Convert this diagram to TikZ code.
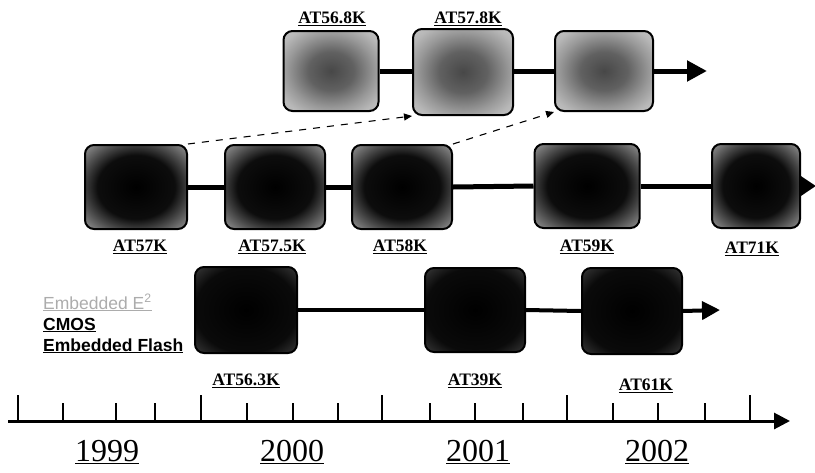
\documentclass[tikz,border=0pt]{standalone}
\usepackage{fontspec}
\setmainfont{Liberation Serif}
\newfontfamily\legendfont{Liberation Sans}
\usetikzlibrary{arrows.meta}
\pgfdeclareradialshading{topshade}{\pgfpointorigin}{color(0bp)=(black!72); color(12bp)=(black!62); color(23bp)=(black!40); color(30bp)=(black!28); color(35bp)=(black!24); color(50bp)=(black!24)}
\pgfdeclareradialshading{midshade}{\pgfpointorigin}{color(0bp)=(black); color(19bp)=(black!95); color(26bp)=(black!72); color(32bp)=(black!52); color(35bp)=(black!45); color(50bp)=(black!45)}
\pgfdeclareradialshading{lowshade}{\pgfpointorigin}{color(0bp)=(black); color(25bp)=(black!96); color(32bp)=(black!84); color(35bp)=(black!76); color(50bp)=(black!76)}
\tikzset{
  chipbase/.style={draw=black,line width=2pt,rounded corners=9pt,inner sep=0pt},
  topchip/.style={chipbase,shading=topshade,minimum width=95pt,minimum height=80pt},
  midchip/.style={chipbase,shading=midshade,minimum width=102pt,minimum height=84pt},
  lowchip/.style={chipbase,shading=lowshade,minimum width=102pt,minimum height=86pt},
  lbl/.style={font=\fontsize{17.5}{18}\selectfont\bfseries,inner sep=0pt},
  yearlbl/.style={font=\fontsize{32}{32}\selectfont,inner sep=0pt},
  legendtxt/.style={font=\legendfont\fontsize{17.5}{18}\selectfont,anchor=base west,inner sep=0pt},
  legendbold/.style={legendtxt,font=\legendfont\bfseries\fontsize{17.5}{18}\selectfont},
  link/.style={line width=5pt},
  lowlink/.style={line width=4pt},
  bigtip/.style={-{Triangle[length=20pt,width=20pt]}},
  dashlink/.style={line width=1.1pt,dash pattern=on 7pt off 7pt,-{Triangle[length=8pt,width=7pt]}},
  majortick/.style={line width=2pt},
  minortick/.style={line width=1.6pt}
}
\begin{document}
\begin{tikzpicture}[x=1pt,y=-1pt]
\useasboundingbox (0,0) rectangle (815,472);
% top row
\node[topchip] (t1) at (331,71) {};
\node[topchip,minimum width=100pt,minimum height=86pt] (t2) at (463,72) {};
\node[topchip,minimum width=98pt] (t3) at (604,71) {};
\coordinate (tend) at (707,71);
\node[lbl] (lt1) at (332,19) {\underline{AT56.8K}};
\node[lbl] (lt2) at (468,19) {\underline{AT57.8K}};
\draw[link] (t1.east) -- (t2.west |- t1.east);
\draw[link] (t2.east |- t3.west) -- (t3.west);
\draw[link,bigtip] (t3.east) -- (tend);
% middle row
\node[midchip] (m1) at (136,187) {};
\node[midchip,minimum width=100pt] (m2) at (275,187) {};
\node[midchip,minimum width=100pt] (m3) at (402,187) {};
\node[midchip,minimum width=105pt] (m4) at (587,186) {};
\node[midchip,minimum width=88pt] (m5) at (756,186) {};
\coordinate (mend) at (816,186);
\node[lbl] (lm1) at (140,247) {\underline{AT57K}};
\node[lbl] (lm2) at (272,247) {\underline{AT57.5K}};
\node[lbl] (lm3) at (400,247) {\underline{AT58K}};
\node[lbl] (lm4) at (587,247) {\underline{AT59K}};
\node[lbl] (lm5) at (752,249) {\underline{AT71K}};
\draw[link] (m1.east) -- (m2.west);
\draw[link] (m2.east) -- (m3.west);
\draw[link] (m3.east) -- (m4.west);
\draw[link] (m4.east) -- (m5.west);
\draw[link,-{Triangle[length=16pt,width=20pt]}] (m5.east) -- (mend);
% dashed migration links
\draw[dashlink] (m1.north east) -- (t2.south west);
\draw[dashlink] (m3.north east) -- (t3.south west);
% bottom row
\node[lowchip] (b1) at (246,310) {};
\node[lowchip,minimum width=100pt,minimum height=84pt] (b2) at (475,310) {};
\node[lowchip,minimum width=100pt] (b3) at (632,311) {};
\coordinate (bend) at (720,310);
\node[lbl] (lb1) at (246,381) {\underline{AT56.3K}};
\node[lbl] (lb2) at (475,381) {\underline{AT39K}};
\node[lbl] (lb3) at (646,386) {\underline{AT61K}};
\draw[lowlink] (b1.east) -- (b2.west);
\draw[lowlink] (b2.east) -- (b3.west);
\draw[lowlink,-{Triangle[length=18pt,width=18pt]}] (b3.east) -- (bend);
% legend
\node[legendtxt,text=gray!65] (leg1) at (43,309) {\underline{Embedded E\textsuperscript{2}}};
\node[legendbold] (leg2) at (43,330) {\underline{CMOS}};
\node[legendbold] (leg3) at (43,351) {\underline{Embedded Flash}};
% timeline
\coordinate (ax0) at (8,421);
\coordinate (ax1) at (790,421);
\draw[line width=3pt,-{Triangle[length=16pt,width=16pt]}] (ax0) -- (ax1);
\foreach \x in {18,201,382,567,750} \draw[majortick] (\x,421) -- (\x,395);
\foreach \x in {63,116,155,247,293,338,430,475,523,613,658,705} \draw[minortick] (\x,421) -- (\x,403);
\node[yearlbl] (y1) at (107,452) {\underline{1999}};
\node[yearlbl] (y2) at (292,452) {\underline{2000}};
\node[yearlbl] (y3) at (478,452) {\underline{2001}};
\node[yearlbl] (y4) at (657,452) {\underline{2002}};
\end{tikzpicture}
\end{document}
